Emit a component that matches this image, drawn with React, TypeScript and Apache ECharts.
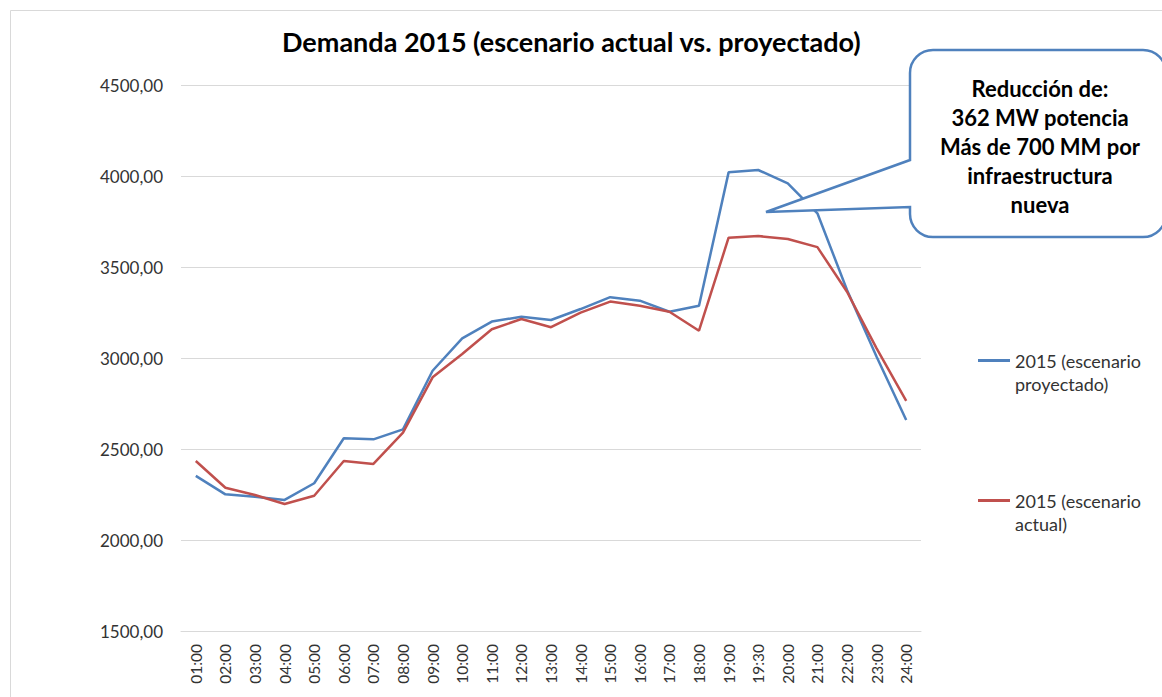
import React, { useEffect, useRef } from "react";
import * as echarts from "echarts";

const categories = [
  "01:00", "02:00", "03:00", "04:00", "05:00", "06:00", "07:00", "08:00",
  "09:00", "10:00", "11:00", "12:00", "13:00", "14:00", "15:00", "16:00",
  "17:00", "18:00", "19:00", "19:30", "20:00", "21:00", "22:00", "23:00", "24:00",
];

const proyectado = [
  2352, 2251, 2238, 2220, 2312, 2559, 2553, 2608, 2930, 3108, 3200, 3227, 3209,
  3269, 3334, 3315, 3254, 3287, 4020, 4033, 3960, 3795, 3374, 3007, 2659,
];

const actual = [
  2434, 2287, 2247, 2198, 2243, 2434, 2418, 2590, 2894, 3022, 3158, 3214, 3169,
  3249, 3310, 3287, 3254, 3150, 3661, 3670, 3654, 3609, 3364, 3053, 2765,
];

const seriesNames = ["2015 (escenario proyectado)", "2015 (escenario actual)"];
const legendLabels: Record<string, string> = {
  "2015 (escenario proyectado)": "2015 (escenario\nproyectado)",
  "2015 (escenario actual)": "2015 (escenario\nactual)",
};

const titleText = "Demanda 2015 (escenario actual vs. proyectado)";
const calloutText = "Reducción de:\n362 MW potencia\nMás de 700 MM por\ninfraestructura\nnueva";

const calloutPath =
  "M933,50 H1143 A23,23 0 0 1 1166,73 V214 A23,23 0 0 1 1143,237 H933 A23,23 0 0 1 910,214 V207 L766,212 L910,160 V73 A23,23 0 0 1 933,50 Z";

let registered = false;

export default function App() {
  const ref = useRef<HTMLDivElement>(null);

  useEffect(() => {
    if (!ref.current) return;
    if (!registered) {
      echarts.graphic.registerShape("calloutShape", echarts.graphic.extendPath(calloutPath, {}) as any);
      registered = true;
    }
    const chart = echarts.init(ref.current, null, { renderer: "svg" });
    const font = "Lato, 'Noto Sans', sans-serif";
    chart.setOption({
      animation: false,
      backgroundColor: "#ffffff",
      title: {
        text: titleText,
        left: 282,
        top: 28,
        padding: 0,
        textStyle: { fontFamily: font, fontSize: 27, fontWeight: "bold", color: "#000" },
      },
      legend: {
        orient: "vertical",
        left: 978,
        top: 349,
        padding: 0,
        itemGap: 94,
        itemWidth: 32,
        itemHeight: 26,
        icon: "path://M0,0H32V3H0Z M31.99,25.99H32V26H31.99Z",
        symbolKeepAspect: false,
        itemStyle: { borderWidth: 0 },
        data: seriesNames,
        formatter: (name: string) => legendLabels[name] || name,
        textStyle: { fontFamily: font, fontSize: 18, color: "#333", lineHeight: 23 },
      },
      grid: { left: 181, right: 241, top: 85, bottom: 66, containLabel: false },
      xAxis: {
        type: "category",
        data: categories,
        boundaryGap: true,
        axisLine: { lineStyle: { color: "#d9d9d9", width: 1 } },
        axisTick: { show: false },
        axisLabel: {
          rotate: 90,
          interval: 0,
          margin: 13,
          fontFamily: font,
          fontSize: 15.5,
          color: "#333",
        },
      },
      yAxis: {
        type: "value",
        min: 1500,
        max: 4500,
        interval: 500,
        axisLine: { show: false },
        axisTick: { show: false },
        splitLine: { lineStyle: { color: "#d9d9d9", width: 1 } },
        axisLabel: {
          margin: 18,
          fontFamily: font,
          fontSize: 17,
          color: "#333",
          formatter: (v: number) => v.toFixed(2).replace(".", ","),
        },
      },
      series: [
        {
          name: seriesNames[0],
          type: "line",
          data: proyectado,
          symbol: "none",
          lineStyle: { color: "#4F81BD", width: 2.5 },
          itemStyle: { color: "#4F81BD" },
        },
        {
          name: seriesNames[1],
          type: "line",
          data: actual,
          symbol: "none",
          lineStyle: { color: "#C0504D", width: 2.5 },
          itemStyle: { color: "#C0504D" },
        },
      ],
      graphic: [
        {
          type: "rect",
          z: 0,
          silent: true,
          shape: { x: 10.5, y: 10.5, width: 1200, height: 800 },
          style: { fill: "none", stroke: "#d9d9d9", lineWidth: 1 },
        },
        {
          type: "calloutShape",
          z: 100,
          x: 0,
          y: 0,
          style: { fill: "#ffffff", stroke: "#4F81BD", lineWidth: 2.5 },
        },
        {
          type: "text",
          z: 101,
          x: 1040,
          y: 146,
          style: {
            text: calloutText,
            fontFamily: font,
            fontSize: 22,
            fontWeight: "bold",
            lineHeight: 29,
            fill: "#000",
            align: "center",
            verticalAlign: "middle",
          },
        },
      ],
    });
    return () => chart.dispose();
  }, []);

  return (
    <div
      ref={ref}
      style={{ position: "fixed", left: 0, top: 0, width: 1162, height: 697 }}
    />
  );
}
